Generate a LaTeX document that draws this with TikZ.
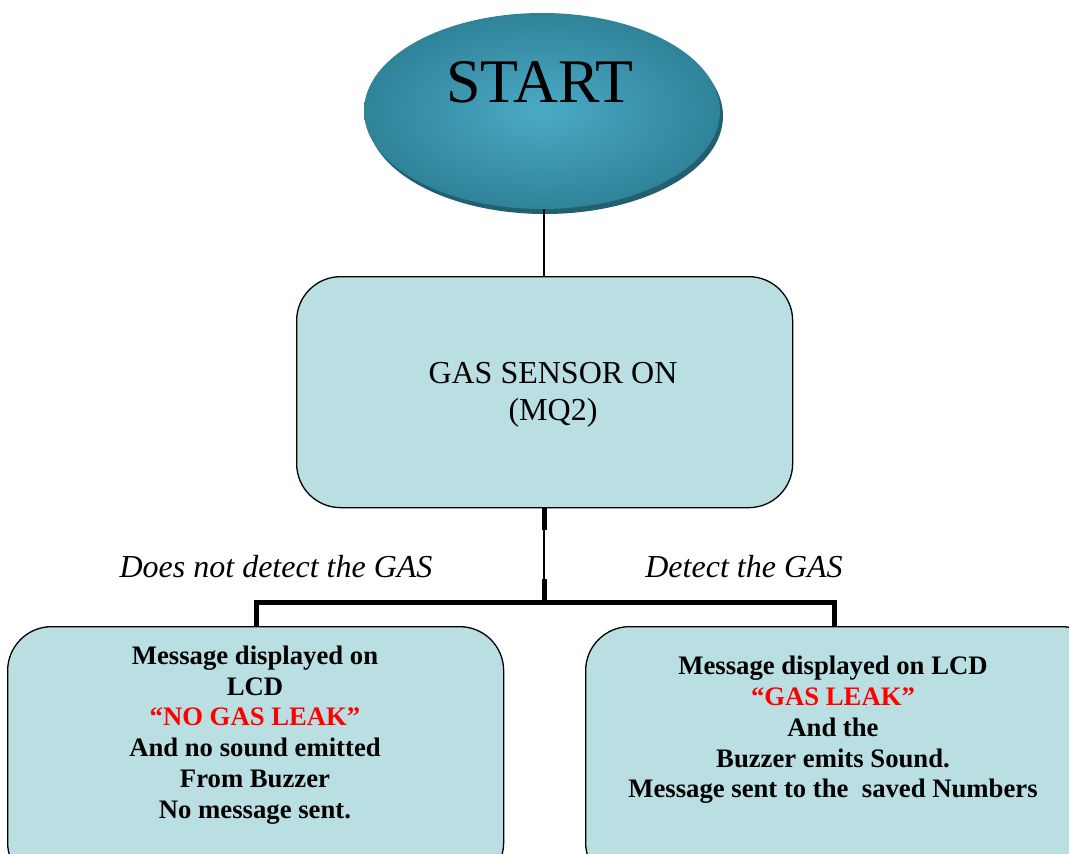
\documentclass[tikz,border=0pt]{standalone}
\usepackage{fontspec}
\setmainfont{Liberation Serif}
\usetikzlibrary{shapes.geometric}
\definecolor{boxfill}{HTML}{BADFE2}
\definecolor{tealin}{HTML}{4BAAC6}
\definecolor{tealout}{HTML}{2F8399}
\definecolor{tealshadow}{HTML}{22606F}
\definecolor{leakred}{HTML}{FF0000}
\tikzset{
  flowbox/.style={draw=black, line width=1.3pt, fill=boxfill, rounded corners=44pt, anchor=north west},
  thickline/.style={line width=5pt, black},
  thinline/.style={line width=1.2pt, black},
  branchlabel/.style={font=\fontsize{32}{36}\selectfont\itshape, anchor=center},
  boxtext/.style={font=\fontsize{26.7}{30.8}\selectfont\bfseries, align=center, anchor=center},
}
\begin{document}
\begin{tikzpicture}[x=1pt,y=-1pt]
\useasboundingbox (0,0) rectangle (1069,854);
\clip (0,0) rectangle (1069,854);
% start ellipse with shadow
\fill[tealshadow] (545,116) ellipse [x radius=178, y radius=98];
\node[ellipse, minimum width=356pt, minimum height=196pt, inner sep=0pt,
      inner color=tealin, outer color=tealout] (start) at (542,111) {};
\node[font=\fontsize{62}{64}\selectfont] (starttext) at (540,82) {START};
% gas sensor box
\node[flowbox, minimum width=496pt, minimum height=231pt, inner sep=0pt] (sensor) at (296,276) {};
\node[font=\fontsize{32}{37}\selectfont, align=center] (sensortext) at (553,395) {GAS SENSOR ON\\(MQ2)};
% lower boxes
\node[flowbox, minimum width=496pt, minimum height=260pt, inner sep=0pt] (left) at (7,626) {};
\node[flowbox, minimum width=520pt, minimum height=260pt, inner sep=0pt] (right) at (585,626) {};
% connectors
\coordinate (j1) at (544,530);
\coordinate (j2) at (544,579);
\coordinate (jun) at (544,602);
\coordinate (lt) at (256,602);
\coordinate (rt) at (834,602);
\draw[thinline] (jun |- start.south) -- (jun |- sensor.north);
\draw[thickline] (sensor.south -| jun) -- (j1);
\draw[thinline] (j1) -- (j2);
\draw[thickline] (j2) -- (jun);
\draw[thickline, line cap=rect] (lt) -- (rt);
\draw[thickline] (lt) -- (lt |- left.north);
\draw[thickline] (rt) -- (rt |- right.north);
% branch labels
\node[branchlabel] (nolabel) at (276,567) {Does not detect the GAS};
\node[branchlabel] (yeslabel) at (744,567) {Detect the GAS};
% box texts
\node[boxtext] (lefttext) at (255,735) {Message displayed on\\LCD\\\textcolor{leakred}{“NO GAS LEAK”}\\And no sound emitted\\From Buzzer\\No message sent.};
\node[boxtext] (righttext) at (833,730) {Message displayed on LCD\\\textcolor{leakred}{“GAS LEAK”}\\And the\\Buzzer emits Sound.\\Message sent to the \ saved Numbers};
\end{tikzpicture}
\end{document}
